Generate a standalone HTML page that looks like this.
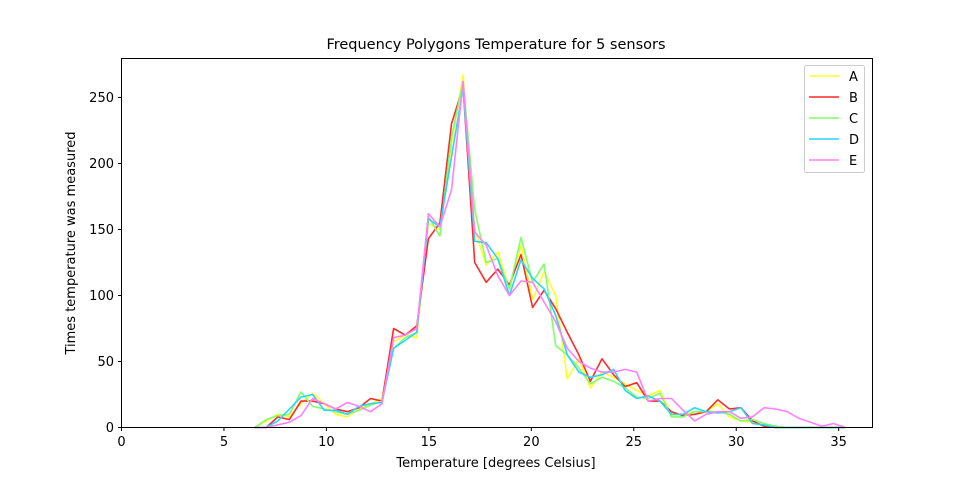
<!DOCTYPE html>
<html><head><meta charset="utf-8"><style>
body{margin:0;background:#fff;font-family:"Liberation Sans","DejaVu Sans",sans-serif}
svg text{font-family:"DejaVu Sans","Liberation Sans",sans-serif;fill:#000}
</style></head><body>
<svg id="chart" width="969" height="480" xmlns="http://www.w3.org/2000/svg">
<rect width="969" height="480" fill="#fff"/>
<text x="496" y="49" font-size="14.5" text-anchor="middle">Frequency Polygons Temperature for 5 sensors</text>
<g id="marks"></g>
<rect x="121.5" y="58.5" width="751" height="369" fill="none" stroke="#000" stroke-width="1"/>
<g id="axes"></g>
<text x="496" y="467" font-size="13" text-anchor="middle">Temperature [degrees Celsius]</text>
<text transform="translate(75,243) rotate(-90)" font-size="13" text-anchor="middle">Times temperature was measured</text>
<g id="legend">
<rect x="804.5" y="65.5" width="60" height="107" rx="2" fill="#fff" stroke="#ccc"/>
</g>
</svg>
<script>
const seriesNames=["A","B","C","D","E"];
const colors=["#ffff22","#ff2a2a","#80ff6a","#2ad4ff","#ff80ff"];
const tempStart=6.5, tempStep=0.565;
const xTicks=[0,5,10,15,20,25,30,35];
const yTicks=[0,50,100,150,200,250];
const seriesA=[0,5,10,8,18,26,18,10,8,14,18,22,65,70,68,155,150,215,267,150,123,133,105,138,97,118,100,37,52,30,42,38,33,28,24,28,9,10,12,12,18,8,5,4,1,0,0,0,0,0,0,0];
const seriesB=[0,0,8,6,20,20,18,14,12,15,22,20,75,70,77,143,155,230,258,125,110,120,108,131,91,104,90,72,55,35,52,40,31,34,20,20,12,9,10,12,21,14,15,5,1,0,0,0,0,0,0,0];
const seriesC=[0,6,9,10,27,16,14,12,10,13,17,20,60,68,72,160,145,220,262,165,125,128,105,144,110,124,62,55,45,33,38,35,30,23,22,26,8,8,12,12,12,10,5,6,3,1,0,0,0,0,0,0];
const seriesD=[0,0,5,14,23,25,13,13,10,16,18,19,60,66,72,158,152,205,257,141,140,128,100,127,113,105,85,55,42,38,40,44,28,22,24,20,10,10,15,12,11,12,15,3,2,0,0,0,0,0,0,0];
const seriesE=[0,0,2,4,9,22,18,14,19,16,12,18,68,70,75,162,152,180,262,148,138,115,100,111,110,95,80,60,50,45,42,42,44,42,20,22,22,13,5,10,12,12,7,8,15,14,12,7,4,1,3,0];
const allSeries=[seriesA,seriesB,seriesC,seriesD,seriesE];
const X0=121.5,X1=872.5,Y0=427.5,Y1=58.5,XMAX=36.65,YMAX=279.5;
const xs=v=>X0+v/XMAX*(X1-X0);
const ys=v=>Y0-v/YMAX*(Y0-Y1);
const NS="http://www.w3.org/2000/svg";
const marks=document.getElementById('marks');
allSeries.forEach((s,k)=>{
  const p=document.createElementNS(NS,'polyline');
  p.setAttribute('points',s.map((v,i)=>xs(tempStart+i*tempStep).toFixed(1)+','+ys(v).toFixed(1)).join(' '));
  p.setAttribute('fill','none');p.setAttribute('stroke',colors[k]);p.setAttribute('stroke-width','1.6');
  p.setAttribute('stroke-linejoin','round');
  
  
  marks.appendChild(p);
});
const axes=document.getElementById('axes');
xTicks.forEach(t=>{
  const g=document.createElementNS(NS,'g');
  
  
  const x=xs(t);
  g.innerHTML=`<line x1="${x}" x2="${x}" y1="427.5" y2="431" stroke="#000"/><text x="${x}" y="446" font-size="13" text-anchor="middle">${t}</text>`;
  axes.appendChild(g);
});
yTicks.forEach(t=>{
  const g=document.createElementNS(NS,'g');
  
  
  const y=ys(t);
  g.innerHTML=`<line x1="118" x2="121.5" y1="${y}" y2="${y}" stroke="#000"/><text x="114" y="${y+4.5}" font-size="13" text-anchor="end">${t}</text>`;
  axes.appendChild(g);
});
const lg=document.getElementById('legend');
seriesNames.forEach((n,k)=>{
  const g=document.createElementNS(NS,'g');
  
  
  const y=76+k*21;
  g.innerHTML=`<line x1="809" x2="839" y1="${y}" y2="${y}" stroke="${colors[k]}" stroke-width="1.6"/><text x="849" y="${y+5}" font-size="13">${n}</text>`;
  lg.appendChild(g);
});
</script>
</body></html>
